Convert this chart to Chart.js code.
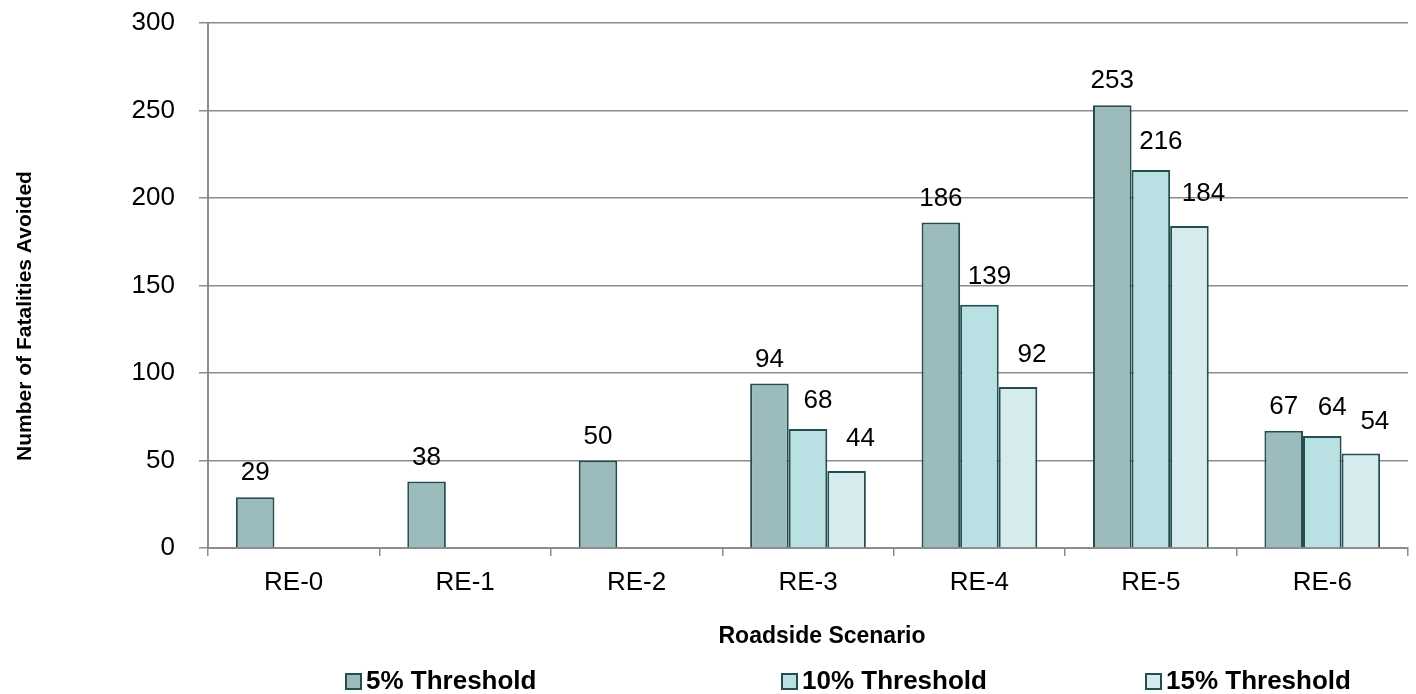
<!DOCTYPE html>
<html>
<head>
<meta charset="utf-8">
<script src="https://cdn.jsdelivr.net/npm/chart.js@4.4.1/dist/chart.umd.min.js"></script>
<style>
html,body{margin:0;padding:0;background:#fff;}
#wrap{width:1416px;height:694px;position:relative;}
</style>
</head>
<body>
<div id="wrap"><canvas id="c" width="1416" height="694"></canvas></div>
<script>
const categories = ["RE-0","RE-1","RE-2","RE-3","RE-4","RE-5","RE-6"];
const seriesNames = ["5% Threshold","10% Threshold","15% Threshold"];
const threshold5  = [29, 38, 50, 94, 186, 253, 67];
const threshold10 = [null, null, null, 68, 139, 216, 64];
const threshold15 = [null, null, null, 44, 92, 184, 54];
const yTicks = [0, 50, 100, 150, 200, 250, 300];
const yTitle = "Number of Fatalities Avoided";
const xTitle = "Roadside Scenario";

const fills = ["#9BBBBD", "#B9E0E3", "#D6EBEE"];
const border = "#254E50";
const gridColor = "#8C8C8C";
const FONT = "'Liberation Sans', Arial, sans-serif";

const labelPlugin = {
  id: 'extras',
  afterDatasetsDraw(chart) {
    const ctx = chart.ctx;
    ctx.save();
    ctx.font = "26px " + FONT;
    ctx.fillStyle = "#000";
    ctx.textAlign = "center";
    ctx.textBaseline = "alphabetic";
    const dxs = [0, 10, 14];
    const gaps = [17, 21, 25];
    chart.data.datasets.forEach((ds, di) => {
      const meta = chart.getDatasetMeta(di);
      meta.data.forEach((bar, i) => {
        const v = ds.data[i];
        if (v === null || v === undefined) return;
        ctx.fillText(String(v), bar.x + dxs[di], bar.y - gaps[di]);
      });
    });
    ctx.restore();
  },
  afterDraw(chart) {
    const ctx = chart.ctx;
    const ca = chart.chartArea;
    ctx.save();
    ctx.font = "bold 21px " + FONT;
    ctx.fillStyle = "#000";
    ctx.textAlign = "center";
    ctx.textBaseline = "middle";
    ctx.translate(25, 316);
    ctx.rotate(-Math.PI / 2);
    ctx.fillText(yTitle, 0, 0);
    ctx.restore();
    ctx.save();
    ctx.font = "bold 23px " + FONT;
    ctx.fillStyle = "#000";
    ctx.textAlign = "center";
    ctx.textBaseline = "middle";
    ctx.fillText(xTitle, (ca.left + ca.right) / 2 + 14, 637);
    const boxX = [346, 782, 1146];
    ctx.font = "bold 26px " + FONT;
    ctx.textAlign = "left";
    ctx.textBaseline = "alphabetic";
    seriesNames.forEach((name, i) => {
      ctx.fillStyle = fills[i];
      ctx.fillRect(boxX[i], 674, 15, 15);
      ctx.strokeStyle = border;
      ctx.lineWidth = 2;
      ctx.strokeRect(boxX[i], 674, 15, 15);
      ctx.fillStyle = "#000";
      ctx.fillText(name, boxX[i] + 20, 689);
    });
    ctx.restore();
  }
};

const datasetValues = [threshold5, threshold10, threshold15];
new Chart(document.getElementById('c'), {
  type: 'bar',
  data: {
    labels: categories,
    datasets: datasetValues.map((vals, i) => ({
      label: seriesNames[i],
      data: vals,
      backgroundColor: fills[i],
      borderColor: border,
      borderWidth: 2,
      borderSkipped: 'bottom',
      categoryPercentage: 0.675,
      barPercentage: 1.0
    }))
  },
  options: {
    responsive: false,
    animation: false,
    devicePixelRatio: 1,
    layout: { padding: { top: 23, right: 8, left: 0, bottom: 0 } },
    plugins: {
      legend: { display: false },
      tooltip: { enabled: false },
      title: { display: false }
    },
    scales: {
      x: {
        grid: { display: true, drawOnChartArea: false, drawTicks: true, tickLength: 8, color: gridColor, lineWidth: 1.5, offset: true },
        border: { display: true, color: gridColor, width: 2 },
        ticks: { color: "#000", font: { family: FONT, size: 26 }, padding: 11, maxRotation: 0 },
        afterFit(scale) { scale.height = 146; }
      },
      y: {
        min: 0, max: 300,
        afterBuildTicks(scale) { scale.ticks = yTicks.map(v => ({ value: v })); },
        grid: { display: true, drawOnChartArea: true, drawTicks: true, tickLength: 9, color: gridColor, lineWidth: 1.5 },
        border: { display: true, color: gridColor, width: 2 },
        ticks: { color: "#000", font: { family: FONT, size: 26 }, padding: 24 },
        afterFit(scale) { scale.width = 208; scale.paddingTop = 0; scale.paddingBottom = 0; }
      }
    }
  },
  plugins: [labelPlugin]
});
</script>
</body>
</html>
